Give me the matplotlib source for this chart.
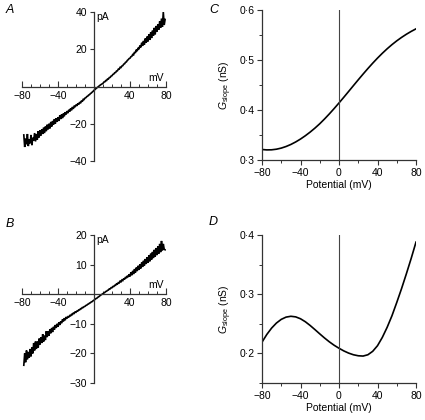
import numpy as np
import matplotlib
matplotlib.use("Agg")
import matplotlib.pyplot as plt
from matplotlib.ticker import FixedLocator, FuncFormatter

plt.rcParams['font.family'] = ['Liberation Sans', 'DejaVu Sans']
plt.rcParams['mathtext.fontset'] = 'custom'
plt.rcParams['mathtext.rm'] = 'Liberation Sans'
plt.rcParams['mathtext.it'] = 'Liberation Sans:italic'

# ---- Data ----
# Panel A: I-V trace (mV, pA), 1 mV steps from -78 to 79
voltage_A = list(range(-78, 80))
current_A = [
    -26.0, -32.5, -28.0, -31.0, -25.5, -32.0, -28.5, -30.5,
    -26.0, -31.5, -27.5, -29.0, -25.0, -29.5, -25.5, -28.5, -24.0, -27.5,
    -23.5, -26.5, -23.0, -25.5, -22.0, -25.0, -21.5, -24.0, -20.5, -23.0,
    -20.0, -22.5, -19.0, -21.5, -18.5, -20.5, -17.5, -20.0, -17.0, -19.0,
    -16.5, -18.5, -15.5, -17.5, -15.0, -17.0, -14.5, -16.0, -13.8, -15.0,
    -13.2, -14.3, -12.5, -13.5, -11.8, -12.8, -11.0, -12.0, -10.6, -10.8,
    -9.8, -10.4, -9.1, -9.7, -8.4, -9.0, -7.7, -8.1, -6.9, -7.0,
    -6.2, -6.0, -5.4, -5.2, -4.6, -4.4, -3.8, -3.5, -3.0, -2.6,
    -2.0, -1.7, -1.2, -0.8, -0.4, 0.0, 0.4, 0.8, 1.1, 1.4,
    1.7, 2.4, 2.5, 3.2, 3.2, 4.0, 4.0, 4.8, 4.9, 5.6,
    5.8, 6.5, 6.7, 7.4, 7.5, 8.3, 8.4, 9.3, 9.3, 10.3,
    10.2, 11.0, 11.2, 12.0, 12.2, 13.0, 13.2, 14.0, 14.4, 15.0,
    15.2, 16.0, 16.2, 17.2, 17.0, 18.5, 18.0, 19.8, 19.0, 20.8,
    20.0, 22.0, 21.0, 23.5, 21.8, 24.5, 22.5, 25.8, 23.5, 26.8,
    24.2, 28.0, 25.0, 29.0, 26.0, 30.0, 27.2, 31.5, 28.0, 32.5,
    29.5, 33.5, 30.5, 35.0, 31.5, 36.5, 32.0, 40.0, 33.0, 36.0,
]

# Panel B: I-V trace (mV, pA)
voltage_B = list(range(-78, 80))
current_B = [
    -24.0, -20.0, -23.0, -19.0, -22.0, -19.5, -21.5, -18.5,
    -21.0, -18.0, -20.0, -16.5, -19.0, -16.0, -18.5, -16.0, -18.0, -15.0,
    -17.0, -14.5, -16.5, -13.5, -16.0, -14.0, -15.5, -12.5, -14.5, -12.5,
    -14.0, -11.8, -13.2, -11.4, -12.8, -11.0, -12.0, -10.4, -11.4, -10.0,
    -11.0, -9.5, -10.4, -9.2, -9.8, -8.5, -9.2, -8.1, -8.8, -7.7,
    -8.2, -7.6, -7.7, -7.2, -7.3, -6.8, -6.9, -6.4, -6.5, -6.0,
    -6.1, -5.7, -5.7, -5.3, -5.3, -4.9, -4.9, -4.5, -4.5, -4.2,
    -4.1, -3.8, -3.7, -3.4, -3.3, -3.0, -2.9, -2.6, -2.5, -2.2,
    -2.0, -1.8, -1.5, -1.4, -1.1, -0.9, -0.7, -0.4, -0.2, 0.0,
    0.2, 0.4, 0.6, 0.9, 1.0, 1.3, 1.4, 1.8, 1.8, 2.2,
    2.2, 2.6, 2.6, 3.0, 3.0, 3.5, 3.4, 3.9, 3.8, 4.4,
    4.2, 4.8, 4.6, 5.3, 5.0, 5.8, 5.4, 6.2, 5.8, 6.7,
    6.0, 7.4, 6.4, 7.9, 6.8, 8.5, 7.3, 9.0, 7.8, 9.6,
    8.2, 10.1, 8.7, 10.7, 9.2, 11.3, 9.7, 11.9, 10.2, 12.5,
    10.6, 13.1, 11.1, 13.7, 11.7, 14.3, 12.2, 15.0, 12.7, 15.6,
    13.2, 16.2, 13.7, 17.0, 14.2, 18.0, 14.8, 17.0, 15.2, 15.0,
]

# Panels C and D: slope conductance (nS) vs potential (mV)
potential = list(range(-80, 81, 5))
gslope_C = [0.3210, 0.3202, 0.3204, 0.3216, 0.3238, 0.3270, 0.3311, 0.3361,
            0.3419, 0.3485, 0.3558, 0.3638, 0.3725, 0.3821, 0.3923, 0.4030,
            0.4141, 0.4255, 0.4371, 0.4488, 0.4604, 0.4718, 0.4829, 0.4936,
            0.5038, 0.5134, 0.5224, 0.5307, 0.5383, 0.5452, 0.5515, 0.5572,
            0.5623]
gslope_D = [0.2190, 0.2320, 0.2428, 0.2513, 0.2575, 0.2613, 0.2627, 0.2617,
            0.2585, 0.2535, 0.2472, 0.2402, 0.2330, 0.2260, 0.2195, 0.2137,
            0.2087, 0.2042, 0.2005, 0.1977, 0.1960, 0.1955, 0.1977, 0.2035,
            0.2130, 0.2270, 0.2440, 0.2635, 0.2860, 0.3095, 0.3345, 0.3605,
            0.3880]

W, H = 425, 420
fig = plt.figure(figsize=(W / 100, H / 100), dpi=100)

AX_COL = '#333333'
FS = 7.5


def rect(x0, x1, ytop, ybot):
    return [x0 / W, 1 - ybot / H, (x1 - x0) / W, (ybot - ytop) / H]


def dotfmt(v, pos):
    return ('%.1f' % v).replace('.', '\u00b7')


def minusfmt(v, pos):
    return ('%d' % v).replace('-', '\u2212')


def iv_panel(pos, volt, curr, ylim, yticks, label, lab_xy):
    ax = fig.add_axes(pos)
    ax.plot(volt, curr, color='black', lw=1.2, solid_joinstyle='miter')
    ax.set_xlim(-80, 80)
    ax.set_ylim(*ylim)
    for s in ('top', 'right'):
        ax.spines[s].set_visible(False)
    ax.spines['left'].set_position(('data', 0))
    ax.spines['bottom'].set_position(('data', 0))
    for s in ('left', 'bottom'):
        ax.spines[s].set_color(AX_COL)
        ax.spines[s].set_linewidth(0.9)
    ax.xaxis.set_major_locator(FixedLocator([-80, -40, 40, 80]))
    ax.xaxis.set_minor_locator(FixedLocator([-70, -60, -50, -30, -20, -10, 10, 20, 30, 50, 60, 70]))
    ax.yaxis.set_major_locator(FixedLocator(yticks))
    ax.xaxis.set_major_formatter(FuncFormatter(minusfmt))
    ax.yaxis.set_major_formatter(FuncFormatter(minusfmt))
    ax.tick_params(axis='x', which='major', direction='in', length=4, width=0.8,
                   color=AX_COL, labelsize=FS, pad=3)
    ax.tick_params(axis='x', which='minor', direction='in', length=2.5, width=0.7,
                   color=AX_COL)
    ax.tick_params(axis='y', which='major', direction='out', length=3, width=0.8,
                   color=AX_COL, labelsize=FS, pad=2)
    ax.patch.set_visible(False)
    ax.text(3, ylim[1], 'pA', fontsize=FS, va='top', ha='left')
    ax.text(78, (ylim[1] - ylim[0]) * 0.025, 'mV', fontsize=FS, va='bottom', ha='right')
    fig.text(lab_xy[0] / W, 1 - lab_xy[1] / H, label, fontsize=9, style='italic',
             ha='left', va='center')
    return ax


def g_panel(pos, pot, g, ylim, yticks, yminor, label, lab_xy):
    ax = fig.add_axes(pos)
    ax.plot(pot, g, color='black', lw=1.2)
    ax.axvline(0, color='#444444', lw=0.8)
    ax.set_xlim(-80, 80)
    ax.set_ylim(*ylim)
    for s in ('top', 'right'):
        ax.spines[s].set_visible(False)
    for s in ('left', 'bottom'):
        ax.spines[s].set_color(AX_COL)
        ax.spines[s].set_linewidth(0.9)
    ax.xaxis.set_major_locator(FixedLocator([-80, -40, 0, 40, 80]))
    ax.xaxis.set_minor_locator(FixedLocator([-60, -20, 20, 60]))
    ax.yaxis.set_major_locator(FixedLocator(yticks))
    ax.yaxis.set_minor_locator(FixedLocator(yminor))
    ax.xaxis.set_major_formatter(FuncFormatter(minusfmt))
    ax.yaxis.set_major_formatter(FuncFormatter(dotfmt))
    ax.tick_params(which='major', direction='out', length=3.5, width=0.8,
                   color=AX_COL, labelsize=FS, pad=2)
    ax.tick_params(which='minor', direction='out', length=2, width=0.7, color=AX_COL)
    ax.set_xlabel('Potential (mV)', fontsize=FS, labelpad=2)
    ax.set_ylabel(r'$G_{\rm slope}$ (nS)', fontsize=FS, labelpad=4)
    fig.text(lab_xy[0] / W, 1 - lab_xy[1] / H, label, fontsize=9, style='italic',
             ha='left', va='center')
    return ax


iv_panel(rect(22, 166, 12, 161), voltage_A, current_A, (-40, 40),
         [-40, -20, 20, 40], 'A', (6, 10))
iv_panel(rect(22, 166, 235, 383), voltage_B, current_B, (-30, 20),
         [-30, -20, -10, 10, 20], 'B', (6, 224))
g_panel(rect(262, 416, 10, 160), potential, gslope_C, (0.3, 0.6),
        [0.3, 0.4, 0.5, 0.6], [0.35, 0.45, 0.55], 'C', (209, 10))
g_panel(rect(262, 416, 235, 383), potential, gslope_D, (0.15, 0.4),
        [0.2, 0.3, 0.4], [0.15, 0.25, 0.35], 'D', (209, 222))

fig.savefig('out.png', dpi=100, facecolor='white')
